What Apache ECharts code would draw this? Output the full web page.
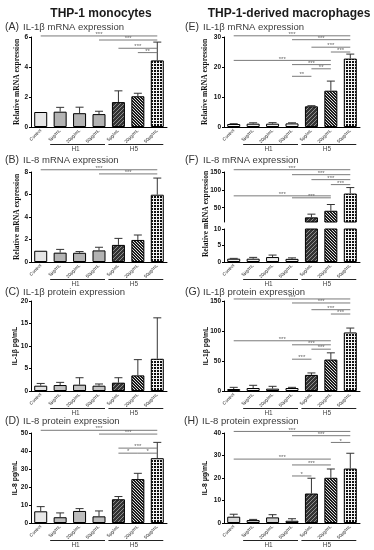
<!DOCTYPE html>
<html><head><meta charset="utf-8">
<script src="https://cdn.jsdelivr.net/npm/echarts@6/dist/echarts.min.js"></script>
<style>html,body{margin:0;padding:0;background:#fff}#c{width:374px;height:550px}</style>
</head><body><div id="c"></div><script>
// ---------------- DATA ----------------
const categories = ['Control','5μg/mL','20μg/mL','50μg/mL','5μg/mL','20μg/mL','50μg/mL'];
const groupSpans = [[1,3],[4,6]];
const groupNames = ['H1','H5'];

const aMean = [1.0, 1.02, 0.92, 0.86, 1.66, 2.05, 4.44];
const aSD   = [0, 0.29, 0.40, 0.19, 0.75, 0.20, 1.22];
const aTicks = [0, 2, 4, 6];
const aSig = [[0,6,6.07],[3,6,5.8],[4,6,5.25],[5,6,4.96]];
const aSigLabels = ['***','***','***','**'];

const bMean = [1.0, 0.83, 0.82, 1.03, 1.52, 1.96, 5.98];
const bSD   = [0, 0.29, 0.11, 0.28, 0.58, 0.44, 1.48];
const bTicks = [0, 2, 4, 6, 8];
const bSig = [[0,6,8.2],[3,6,7.83]];
const bSigLabels = ['***','***'];

const cMean = [1.18, 1.32, 1.40, 1.18, 1.85, 3.47, 7.16];
const cSD   = [0.5, 0.6, 1.55, 0.38, 1.1, 3.5, 9.1];
const cTicks = [0, 5, 10, 15, 20];
const cSig = [];
const cSigLabels = [];

const dMean = [6.5, 3.2, 6.7, 3.7, 13.2, 24.4, 36.0];
const dSD   = [2.6, 2.4, 1.3, 3.0, 1.5, 3.2, 8.8];
const dTicks = [0, 10, 20, 30, 40, 50];
const dSig = [[0,6,51.5],[3,6,49.4],[4,6,41.6],[4,5,38.8],[5,6,38.8]];
const dSigLabels = ['***','***','***','*','*'];

const eMean = [1.0, 1.1, 1.1, 1.2, 6.9, 12.1, 22.8];
const eSD   = [0.1, 0.3, 0.35, 0.2, 0.2, 3.2, 1.5];
const eTicks = [0, 10, 20, 30];
const eSig = [[0,6,30.4],[3,6,29.1],[4,6,26.6],[5,6,25.0],[0,5,22.2],[3,5,20.8],[4,5,19.4],[3,4,16.9]];
const eSigLabels = ['***','***','***','***','***','***','**','**'];

const fMean = [1.0, 1.0, 1.5, 0.95, 23, 41.5, 89.7];
const fSD   = [0.1, 0.4, 0.6, 0.3, 9, 17.5, 16.7];
const fLowTicks = [0, 5, 10];
const fHighMin = 10;
const fHighTicks = [50, 100, 150];
const fSig = [[0,6,156.4],[3,6,142.5],[4,6,128.6],[5,6,114.7],[0,5,83.2],[3,5,77.7]];
const fSigLabels = ['***','***','***','***','***','***'];

const gMean = [3.3, 5.0, 3.9, 5.0, 26.8, 52.4, 97.6];
const gSD   = [2.8, 4.5, 3.9, 1.1, 3.3, 11.2, 7.3];
const gTicks = [0, 50, 100, 150];
const gSig = [[0,6,153.4],[3,6,146.7],[4,6,135.5],[5,6,128.3],[0,5,83.7],[3,5,77.0],[4,5,69.7],[3,4,53.0]];
const gSigLabels = ['***','***','***','***','***','***','***','***'];

const hMean = [2.8, 1.3, 2.5, 1.0, 13.1, 20.1, 24.2];
const hSD   = [1.1, 0.3, 1.2, 0.9, 6.8, 3.9, 6.8];
const hTicks = [0, 10, 20, 30, 40];
const hSig = [[0,6,40.7],[3,6,38.8],[5,6,35.8],[0,5,28.4],[3,5,25.8],[3,4,20.9]];
const hSigLabels = ['***','***','*','***','***','*'];

// ---------------- STYLE ----------------
function pattern(kind){
  const c = document.createElement('canvas');
  const g = c.getContext('2d');
  if(kind === 'grid'){
    c.width = 3; c.height = 3;
    g.fillStyle = '#111'; g.fillRect(0,0,3,3);
    g.fillStyle = '#f4f4f4'; g.fillRect(0,0,3,1); g.fillRect(0,0,1,3);
  } else if(kind === 'fwd'){
    c.width = 4; c.height = 4;
    g.fillStyle = '#333'; g.fillRect(0,0,4,4);
    g.fillStyle = '#8c8c8c';
    g.fillRect(3,0,1,1); g.fillRect(2,1,1,1); g.fillRect(1,2,1,1); g.fillRect(0,3,1,1);
  } else {
    c.width = 3; c.height = 3;
    g.fillStyle = '#1c1c1c'; g.fillRect(0,0,3,3);
    g.fillStyle = '#e0e0e0';
    g.fillRect(0,0,1,1); g.fillRect(1,1,1,1); g.fillRect(2,2,1,1);
  }
  return {image: c, repeat: 'repeat'};
}
const P1 = pattern('fwd'), P2 = pattern('back'), P3 = pattern('grid');
function fills(ctrl, h1){ return [ctrl, h1, h1, h1, P1, P2, P3]; }

const LEFT = 31, RIGHT = 224, GW = 136;
const SERIF = '"Liberation Serif","DejaVu Serif",serif';
const SANS = '"Liberation Sans",Arial,sans-serif';

const option = {animation:false, backgroundColor:'#fff', grid:[], xAxis:[], yAxis:[], series:[], graphic:[]};

function addGrid(rect, yMin, yMax, yTicks, showX, yName, nameFont, nameGap){
  const k = option.grid.length;
  option.grid.push({left:rect.left, top:rect.top, width:GW, height:rect.height, containLabel:false});
  option.xAxis.push({
    type:'category', gridIndex:k, data:categories, show:showX, boundaryGap:true,
    axisLine:{lineStyle:{color:'#000', width:1}},
    axisTick:{alignWithLabel:true, length:2, lineStyle:{color:'#000'}},
    axisLabel:{rotate:45, fontSize:4.5, margin:3, interval:0, color:'#222', fontFamily:SANS}
  });
  const y = {
    type:'value', gridIndex:k, min:yMin, max:yMax,
    axisLine:{show:true, lineStyle:{color:'#000', width:1}},
    axisTick:{show:true, length:2, lineStyle:{color:'#000'}},
    axisLabel:{fontSize:6.5, fontWeight:'bold', margin:3, color:'#111', fontFamily:SANS},
    splitLine:{show:false}
  };
  if (yTicks.length > 1 && yTicks[0] === yMin) {
    y.interval = yTicks[1] - yTicks[0];
  } else {
    y.axisLabel.customValues = yTicks;
    y.axisTick.customValues = yTicks;
  }
  if (yName) {
    y.name = yName; y.nameLocation = 'middle'; y.nameGap = nameGap; y.nameMoveOverlap = false;
    y.nameTextStyle = {fontSize: nameFont === SERIF ? 7.5 : 6.8, fontWeight:'bold', fontFamily:nameFont, color:'#111'};
  }
  option.yAxis.push(y);
  return k;
}

function addBars(k, mean, fl, keep){
  option.series.push({
    type:'bar', xAxisIndex:k, yAxisIndex:k, barWidth:13, clip:true,
    data: mean.map((v,i)=> keep(i) ? {value:v, itemStyle:{color:fl[i], borderColor:'#000', borderWidth:1}} : '-'),
    z:2
  });
}
function addErrors(k, mean, sd, keep){
  const d = [];
  mean.forEach((v,i)=>{ if(keep(i) && sd[i] > 0) d.push([i, v, v + sd[i]]); });
  option.series.push({
    type:'custom', xAxisIndex:k, yAxisIndex:k, z:3, clip:false,
    encode:{x:0, y:[1,2]}, data:d,
    renderItem:(params, api)=>{
      const p0 = api.coord([api.value(0), api.value(1)]);
      const p1 = api.coord([api.value(0), api.value(2)]);
      const st = {stroke:'#333', lineWidth:1};
      return {type:'group', children:[
        {type:'line', shape:{x1:p0[0], y1:p0[1], x2:p1[0], y2:p1[1]}, style:st},
        {type:'line', shape:{x1:p1[0]-4, y1:p1[1], x2:p1[0]+4, y2:p1[1]}, style:st}
      ]};
    }
  });
}
function addSig(k, sig, labels){
  if(!sig.length) return;
  option.series.push({
    type:'custom', xAxisIndex:k, yAxisIndex:k, z:4, clip:false,
    encode:{x:[0,1], y:2}, data: sig.map(s=>[s[0], s[1], s[2]]),
    renderItem:(params, api)=>{
      const a = api.coord([api.value(0), api.value(2)]);
      const b = api.coord([api.value(1), api.value(2)]);
      return {type:'group', children:[
        {type:'line', shape:{x1:a[0], y1:a[1], x2:b[0], y2:b[1]}, style:{stroke:'#7a7a7a', lineWidth:1}},
        {type:'text', x:(a[0]+b[0])/2, y:a[1]+1.5, style:{text:labels[params.dataIndex], align:'center', verticalAlign:'bottom', font:'6px '+SANS, fill:'#666'}}
      ]};
    }
  });
}
function addGroups(k){
  option.series.push({
    type:'custom', xAxisIndex:k, yAxisIndex:k, z:4, clip:false,
    encode:{x:[0,1], y:2}, data: groupSpans.map(s=>[s[0], s[1], 0]),
    renderItem:(params, api)=>{
      const a = api.coord([api.value(0), api.value(2)]);
      const b = api.coord([api.value(1), api.value(2)]);
      const y = a[1] + 17.5;
      const x1 = a[0] - 10, x2 = b[0] + 6;
      return {type:'group', children:[
        {type:'line', shape:{x1:x1, y1:y, x2:x2, y2:y}, style:{stroke:'#222', lineWidth:1}},
        {type:'text', x:(x1+x2)/2 - 2, y:y+1.5, style:{text:groupNames[params.dataIndex], align:'center', verticalAlign:'top', font:'6.5px '+SANS, fill:'#444'}}
      ]};
    }
  });
}
const all = ()=>true;

function panel(rect, mean, sd, ticks, sig, labels, fl, yName, nameFont, nameGap){
  const k = addGrid(rect, ticks[0], ticks[ticks.length-1], ticks, true, yName, nameFont, nameGap);
  addBars(k, mean, fl, all);
  addErrors(k, mean, sd, all);
  addSig(k, sig, labels);
  addGroups(k);
}

panel({left:LEFT, top:37, height:90}, aMean, aSD, aTicks, aSig, aSigLabels, fills('#e6e6e6','#b3b3b3'), 'Relative mRNA expression', SERIF, 9.5);
panel({left:LEFT, top:172, height:90}, bMean, bSD, bTicks, bSig, bSigLabels, fills('#e6e6e6','#b3b3b3'), 'Relative mRNA expression', SERIF, 9.5);
panel({left:LEFT, top:301, height:90}, cMean, cSD, cTicks, cSig, cSigLabels, fills('#e2e2e2','#c4c4c4'), 'IL-1β pg/mL', SANS, 12);
panel({left:LEFT, top:433, height:90}, dMean, dSD, dTicks, dSig, dSigLabels, fills('#e8e8e8','#bdbdbd'), 'IL-8 pg/mL', SANS, 12);
panel({left:RIGHT, top:37, height:90}, eMean, eSD, eTicks, eSig, eSigLabels, fills('#f2f2f2','#eeeeee'), 'Relative mRNA expression', SERIF, 14.5);

// F : broken axis (lower 0-10, upper 10-150)
(function(){
  const fl = fills('#f2f2f2','#eeeeee');
  const kLow = addGrid({left:RIGHT, top:229, height:33}, fLowTicks[0], fLowTicks[fLowTicks.length-1], fLowTicks, true, null);
  addBars(kLow, fMean, fl, all);
  addErrors(kLow, fMean, fSD, i => fMean[i] + fSD[i] <= fLowTicks[fLowTicks.length-1]);
  addGroups(kLow);
  const kHigh = addGrid({left:RIGHT, top:172, height:50}, fHighMin, fHighTicks[fHighTicks.length-1], fHighTicks, false, null);
  addBars(kHigh, fMean, fl, i => fMean[i] > fHighMin);
  addErrors(kHigh, fMean, fSD, i => fMean[i] > fHighMin);
  addSig(kHigh, fSig, fSigLabels);
})();

panel({left:RIGHT, top:301, height:90}, gMean, gSD, gTicks, gSig, gSigLabels, fills('#f4f4f4','#f0f0f0'), 'IL-1β pg/mL', SANS, 14.5);
panel({left:RIGHT, top:433, height:90}, hMean, hSD, hTicks, hSig, hSigLabels, fills('#d9d9d9','#cfcfcf'), 'IL-8 μg/mL', SANS, 15);

// ---------------- TEXT ----------------
function txt(x, y, text, font, fill, align){
  option.graphic.push({type:'text', x:x, y:y, silent:true,
    style:{text:text, font:font, fill:fill, align:align||'left', verticalAlign:'middle'}});
}
txt(101, 14, 'THP-1 monocytes', 'bold 12px '+SANS, '#1a1a1a', 'center');
txt(289, 14, 'THP-1-derived macrophages', 'bold 12px '+SANS, '#1a1a1a', 'center');
const panelTitles = [
  [5, 27.5, '(A)', 'IL-1β mRNA expression'],
  [5, 160.5, '(B)', 'IL-8 mRNA expression'],
  [5, 292, '(C)', 'IL-1β protein expression'],
  [5, 421.5, '(D)', 'IL-8 protein expression'],
  [185, 27.5, '(E)', 'IL-1β mRNA expression'],
  [185, 160, '(F)', 'IL-8 mRNA expression'],
  [185, 292.5, '(G)', 'IL-1β protein expression'],
  [184, 421.5, '(H)', 'IL-8 protein expression']
];
panelTitles.forEach(t=>{
  txt(t[0], t[1], t[2], '10.5px '+SANS, '#333', 'left');
  txt(t[0]+18, t[1], t[3], '9.5px '+SANS, '#3a3a3a', 'left');
});
option.graphic.push({type:'text', x:205.7, y:214, rotation:Math.PI/2, silent:true,
  style:{text:'Relative mRNA expression', font:'bold 7.5px '+SERIF, fill:'#111', align:'center', verticalAlign:'middle'}});

const chart = echarts.init(document.getElementById('c'), null, {renderer:'canvas'});
chart.setOption(option);
</script></body></html>
